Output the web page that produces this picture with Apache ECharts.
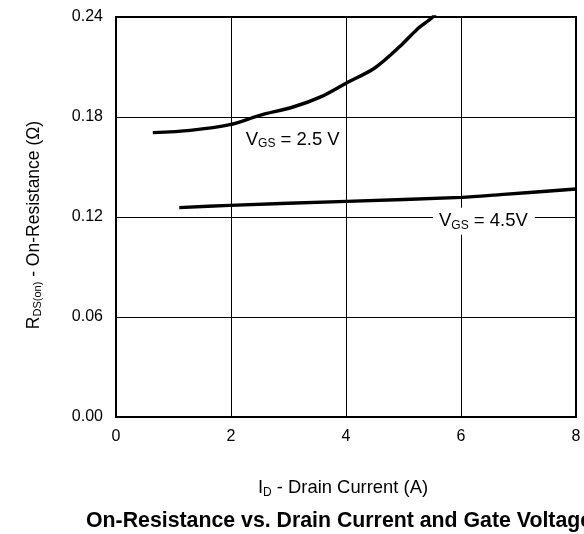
<!DOCTYPE html>
<html><head><meta charset="utf-8">
<script src="https://cdn.jsdelivr.net/npm/echarts@6/dist/echarts.min.js"></script>
<style>html,body{margin:0;padding:0;background:#fff}#c{width:584px;height:534px}</style>
</head><body><div id="c"></div>
<script>
// Data
var xTicks = [0, 2, 4, 6, 8];
var yTicks = [0.00, 0.06, 0.12, 0.18, 0.24];
var vgs25_x = [0.64, 1.29, 1.98, 2.50, 3.08, 3.58, 4.01, 4.50, 4.94, 5.23, 5.49, 5.56];
var vgs25_y = [0.1706, 0.1720, 0.1754, 0.1810, 0.1860, 0.1924, 0.2004, 0.2094, 0.2224, 0.2324, 0.2394, 0.2420];
var vgs45_x = [1.10, 1.98, 4.01, 6.01, 6.68, 8.00];
var vgs45_y = [0.1256, 0.1270, 0.1294, 0.1318, 0.1334, 0.1368];
var annX = [2.256, 5.617];
var annY = [0.1664, 0.1174];
var annText = ['V{sub|GS} = 2.5 V', 'V{sub|GS} = 4.5V'];

function zip(a, b) { return a.map(function (v, i) { return [v, b[i]]; }); }

var FONT = '"Liberation Sans", Arial, Helvetica, sans-serif';
var chart = echarts.init(document.getElementById('c'), null, {renderer: 'canvas'});

chart.setOption({
  animation: false,
  textStyle: {fontFamily: FONT},
  grid: {left: 116, right: 8, top: 17, bottom: 117, containLabel: false, show: true, borderColor: '#000', borderWidth: 2, backgroundColor: 'transparent'},
  xAxis: {
    type: 'value', min: xTicks[0], max: xTicks[xTicks.length - 1], interval: 2,
    axisLine: {show: false}, axisTick: {show: false},
    splitLine: {show: true, lineStyle: {color: '#000', width: 1}},
    axisLabel: {fontSize: 16, color: '#000', margin: 12, fontFamily: FONT}
  },
  yAxis: {
    type: 'value', min: yTicks[0], max: yTicks[yTicks.length - 1], interval: 0.06,
    axisLine: {show: false}, axisTick: {show: false},
    splitLine: {show: true, lineStyle: {color: '#000', width: 1}},
    axisLabel: {fontSize: 16, color: '#000', margin: 13, fontFamily: FONT, formatter: function (v) { return v.toFixed(2); }}
  },
  series: [
    {type: 'line', name: 'VGS=2.5V', data: zip(vgs25_x, vgs25_y), smooth: 0.3, symbol: 'none', clip: true,
     lineStyle: {color: '#000', width: 3.4}},
    {type: 'line', name: 'VGS=4.5V', data: zip(vgs45_x, vgs45_y), smooth: 0.3, symbol: 'none', clip: true,
     lineStyle: {color: '#000', width: 3.4}},
    {type: 'scatter', data: zip(annX, annY).map(function (p, i) {
        return {value: p, label: {formatter: annText[i],
          backgroundColor: i === 1 ? '#fff' : 'transparent', padding: i === 1 ? [3, 7, 3, 6] : 0, offset: i === 1 ? [-6, 0] : [0, 0]}};
      }),
     symbolSize: 0, silent: true, itemStyle: {opacity: 1, color: '#000'},
     label: {show: true, position: 'right', distance: 0, color: '#000', opacity: 1, fontSize: 18.5, fontFamily: FONT,
       rich: {sub: {fontSize: 12, fontFamily: FONT, color: '#000', padding: [9, 0, 0, 0]}}}}
  ],
  graphic: [
    {type: 'text', x: 343, y: 488, style: {text: 'I{sub|D} - Drain Current (A)', fontSize: 18.4, fontFamily: FONT, fill: '#000', align: 'center', verticalAlign: 'middle',
      rich: {sub: {fontSize: 12, fontFamily: FONT, fill: '#000', padding: [9, 0, 0, 0]}}}},
    {type: 'text', x: 86, y: 521, style: {text: 'On-Resistance vs. Drain Current and Gate Voltage', fontSize: 21.3, fontWeight: 'bold', fontFamily: FONT, fill: '#000', verticalAlign: 'middle'}},
    {type: 'text', x: 34, y: 225, rotation: Math.PI / 2, style: {text: 'R{sub|DS(on)} - On-Resistance (Ω)', fontSize: 17.5, fontFamily: FONT, fill: '#000', align: 'center', verticalAlign: 'middle',
      rich: {sub: {fontSize: 11, fontFamily: FONT, fill: '#000', padding: [8, 0, 0, 0]}}}}
  ]
});
</script></body></html>
